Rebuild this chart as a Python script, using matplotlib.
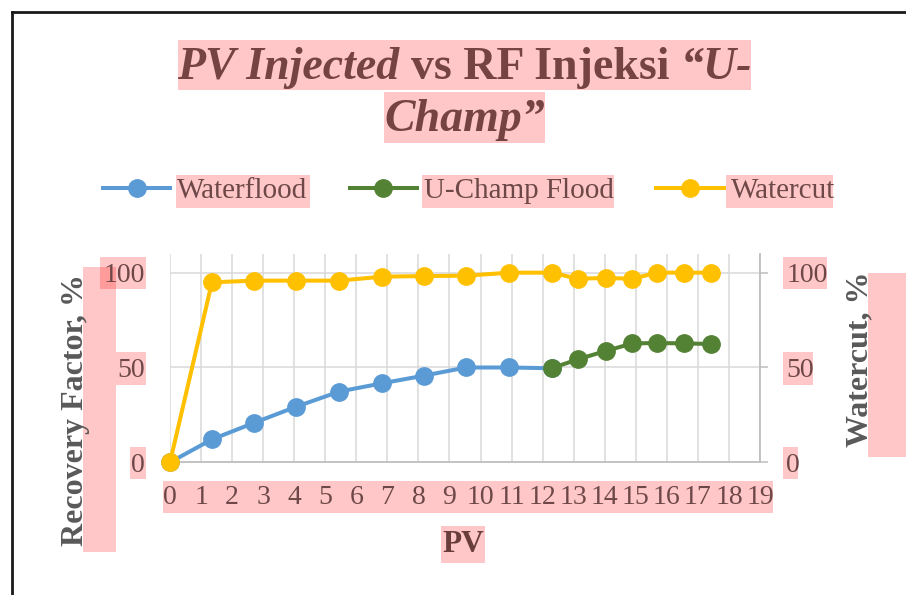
import matplotlib
matplotlib.use('Agg')
import matplotlib.pyplot as plt
from matplotlib.patches import Rectangle
from matplotlib.lines import Line2D

plt.rcParams['font.family'] = ['Liberation Serif', 'DejaVu Serif']

# data
pv_waterflood = [0, 1.35, 2.72, 4.06, 5.45, 6.84, 8.18, 9.53, 10.93, 12.29]
rf_waterflood = [0, 12.1, 20.9, 29.3, 37.3, 41.7, 45.7, 50.0, 50.0, 49.6]
pv_uchamp = [12.29, 13.13, 14.03, 14.89, 15.69, 16.56, 17.42]
rf_uchamp = [49.6, 54.3, 58.7, 62.7, 62.9, 62.7, 62.4]
pv_watercut = [0, 1.35, 2.72, 4.06, 5.45, 6.84, 8.18, 9.53, 10.93, 12.29,
               13.13, 14.03, 14.89, 15.69, 16.56, 17.42]
watercut = [0, 94.9, 95.8, 95.8, 95.8, 97.9, 98.2, 98.4, 100, 100,
            96.8, 97.2, 96.8, 100, 100, 100]
x_ticks = list(range(0, 20))
y_ticks = [0, 50, 100]

W, H = 906, 595
title_color = '#764343'
tick_color = '#6e4848'
label_color = '#595959'
hl_color = '#ff0303'

fig = plt.figure(figsize=(W / 100, H / 100), dpi=100)


def highlight(x0, y0, x1, y1):
    # pink text-selection boxes, given in pixels from the top-left corner
    fig.add_artist(Rectangle((x0 / W, 1 - y1 / H), (x1 - x0) / W, (y1 - y0) / H,
                             transform=fig.transFigure, facecolor=hl_color,
                             alpha=0.218, edgecolor='none', zorder=-1))


highlight(178, 40, 751, 90)
highlight(384, 92, 545, 143)
highlight(176, 175, 310, 208)
highlight(422, 175, 614, 208)
highlight(726, 175, 833, 208)
highlight(100, 257, 146, 289)
highlight(116, 352, 146, 385)
highlight(130, 447, 146, 479)
highlight(83, 267, 116, 552)
highlight(163, 481, 773, 513)
highlight(441, 526, 485, 563)
highlight(783, 257, 827, 289)
highlight(783, 352, 813, 385)
highlight(783, 447, 798, 479)
highlight(868, 273, 910, 457)

# outer frame
fig.add_artist(Line2D([12 / W, 12 / W], [0, 1 - 12 / H], transform=fig.transFigure,
                      color='#1a1a1a', lw=2))
fig.add_artist(Line2D([12 / W, 1], [1 - 12 / H, 1 - 12 / H], transform=fig.transFigure,
                      color='#1a1a1a', lw=2))

ax = fig.add_axes([170 / W, 1 - 462.33 / H, 590 / W, (462.33 - 254) / H])
ax2 = ax.twinx()

ax.plot(pv_waterflood, rf_waterflood, color='#5B9BD5', lw=2.9, marker='o',
        markersize=12.5, clip_on=False, label='Waterflood', zorder=3)
ax.plot(pv_uchamp, rf_uchamp, color='#548235', lw=2.9, marker='o',
        markersize=12.5, clip_on=False, label='U-Champ Flood', zorder=4)
ax2.plot(pv_watercut, watercut, color='#FFC000', lw=2.9, marker='o',
         markersize=12.5, clip_on=False, label='Watercut', zorder=3)

ymax = (462.33 - 254) / 1.8967
for a in (ax, ax2):
    a.set_xlim(0, 19)
    a.set_ylim(0, ymax)
    a.set_yticks(y_ticks)

ax.set_xticks(x_ticks)
ax.set_axisbelow(True)
ax.grid(True, color='#d9d9d9', lw=1.1)
ax.tick_params(axis='x', length=0, pad=16, labelsize=20, labelcolor=tick_color)
ax.tick_params(axis='y', length=0, pad=18, labelsize=20, labelcolor=tick_color)
ax2.tick_params(axis='y', length=6, width=1.1, color='#bfbfbf', pad=13,
                labelsize=20, labelcolor=tick_color)

for s in ('top', 'left', 'right'):
    ax.spines[s].set_visible(False)
ax.spines['bottom'].set_color('#bfbfbf')
ax.spines['bottom'].set_linewidth(1.3)
for s in ('top', 'left', 'bottom'):
    ax2.spines[s].set_visible(False)
ax2.spines['right'].set_color('#bfbfbf')
ax2.spines['right'].set_linewidth(1.3)

# axis titles
ax.text((75 - 170) / 590, (462.33 - 410) / 208.33, 'Recovery Factor, %', transform=ax.transAxes,
        rotation=90, ha='center', va='center', fontsize=23, fontweight='bold', color=label_color)
ax.text((860 - 170) / 590, (462.33 - 359) / 208.33, 'Watercut, %', transform=ax.transAxes,
        rotation=90, ha='center', va='center', fontsize=23, fontweight='bold', color=label_color)
ax.text((463 - 170) / 590, (462.33 - 545) / 208.33, 'PV', transform=ax.transAxes,
        ha='center', va='center', fontsize=22.5, fontweight='bold', color='#6a3d3d')

# legend
handles = ax.get_lines() + ax2.get_lines()
leg = fig.legend(handles, [h.get_label() for h in handles], loc='center',
                 bbox_to_anchor=(469 / W, 1 - 191 / H), ncol=3, frameon=False,
                 fontsize=21, handlelength=2.3, handletextpad=0.25, columnspacing=1.45)
for t in leg.get_texts():
    t.set_color(tick_color)

# title with mixed italic / upright pieces
renderer = fig.canvas.get_renderer()


def text_width(s, style):
    t = fig.text(0, 0, s, fontsize=33, fontweight='bold', fontstyle=style)
    w = t.get_window_extent(renderer).width
    t.remove()
    return w


def title_line(parts, xc, yb):
    gap = text_width('x x', 'normal') - text_width('xx', 'normal')
    widths = [text_width(s, st) for s, st in parts]
    x = xc - (sum(widths) + gap * (len(parts) - 1)) / 2
    for (s, st), w in zip(parts, widths):
        fig.text(x / W, 1 - yb / H, s, fontsize=33, fontweight='bold', fontstyle=st,
                 color=title_color, ha='left', va='baseline')
        x += w + gap


title_line([('PV Injected', 'italic'), ('vs RF Injeksi', 'normal'), ('\u201cU-', 'italic')], 464.5, 79)
title_line([('Champ\u201d', 'italic')], 464.5, 131)

fig.savefig('out.png', dpi=100)
